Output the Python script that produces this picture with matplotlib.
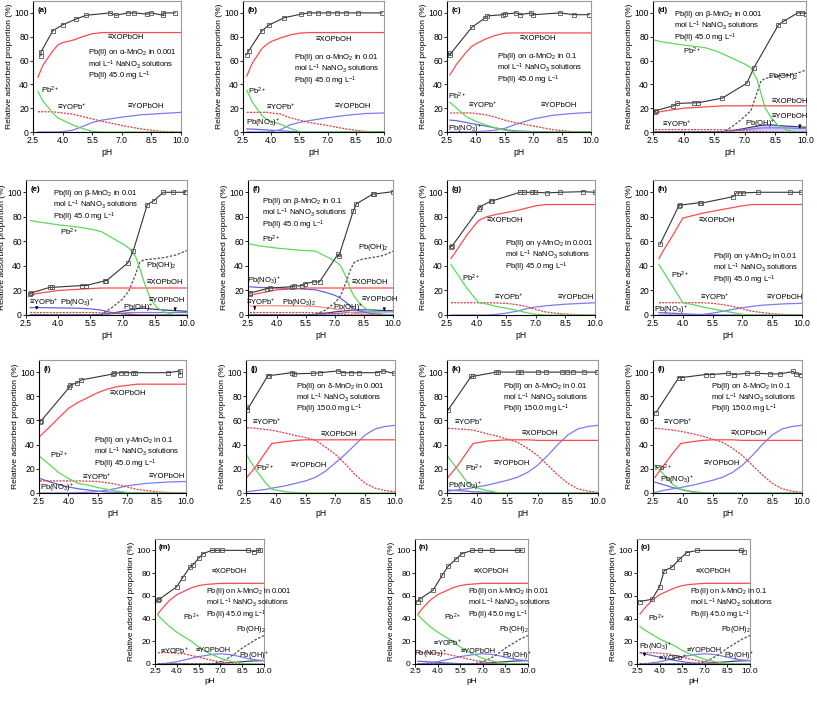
import matplotlib
matplotlib.use('Agg')
import matplotlib.pyplot as plt

plt.rcParams['font.family'] = ['Liberation Sans', 'DejaVu Sans']
plt.rcParams['mathtext.fontset'] = 'custom'
plt.rcParams['mathtext.rm'] = 'Liberation Sans'
plt.rcParams['mathtext.it'] = 'Liberation Sans:italic'
plt.rcParams['mathtext.bf'] = 'Liberation Sans:bold'

# ---- (a) alpha-MnO2, 0.001 M ----
a_ph_m = [2.9, 2.9, 3.5, 4.0, 4.7, 5.2, 6.4, 6.7, 7.3, 7.6, 8.3, 8.5, 9.1, 9.1, 9.7]
a_ads_m = [64, 67, 85, 90, 95, 98, 100, 98, 100, 100, 99, 100, 98, 100, 100]
a_ph = [2.75, 3.0, 3.5, 3.75, 4.0, 4.5, 5.0, 5.5, 6.0, 7.0, 8.0, 9.0, 10.0]
a_xopboh = [46, 56, 68, 73, 75, 77, 80, 82.5, 83.5, 83.5, 83.5, 83.5, 83.5]
a_pb2 = [34, 26, 16, 12, 10, 6, 3, 0.5, 0, 0, 0, 0, 0]
a_yopb = [17, 17, 17, 16.5, 16, 15, 13, 11, 9, 5.5, 2.5, 0.5, 0]
a_yopboh = [0, 0, 0, 0, 0.3, 1.5, 4.5, 8, 10, 12.5, 14.5, 15.5, 16.5]
a_pbno32 = [0, 0, 0, 0, 0, 0, 0, 0, 0, 0, 0, 0, 0]

# ---- (b) alpha-MnO2, 0.01 M ----
b_ph_m = [2.7, 2.8, 3.5, 3.9, 4.7, 5.6, 6.0, 6.5, 7.0, 7.5, 8.0, 8.6, 9.9]
b_ads_m = [65, 68, 85, 90, 96, 99, 100, 100, 100, 100, 100, 100, 100]
b_ph = [2.7, 3.0, 3.5, 3.8, 4.0, 4.5, 5.0, 5.5, 6.0, 7.0, 8.0, 9.0, 10.0]
b_xopboh = [47, 58, 70, 74, 76, 79, 81.5, 83, 83.5, 83.5, 83.5, 83.5, 83.5]
b_pb2 = [35, 25, 14, 10, 9, 6.5, 3, 0.5, 0, 0, 0, 0, 0]
b_yopb = [16.5, 16.5, 16.5, 16.5, 16, 15, 12, 10, 8, 5.5, 2.5, 0.5, 0]
b_yopboh = [0, 0, 0, 0, 0.3, 2, 6, 8, 9.5, 12, 14, 15.5, 16]
b_pbno3 = [2.5, 2.4, 2, 1.7, 1.5, 1, 0.5, 0.2, 0, 0, 0, 0, 0]
b_pbno32 = [0, 0, 0, 0, 0, 0, 0, 0, 0, 0, 0, 0, 0]

# ---- (c) alpha-MnO2, 0.1 M ----
c_ph_m = [2.65, 2.65, 3.8, 4.5, 4.6, 5.4, 5.5, 6.1, 6.3, 6.9, 7.0, 8.4, 9.1, 9.9]
c_ads_m = [66, 65, 88, 96, 97.5, 98.5, 99, 100, 98.5, 100, 98.5, 100, 98.5, 98.5]
c_ph = [2.65, 3.0, 3.5, 3.8, 4.0, 4.5, 5.0, 5.5, 6.0, 7.0, 8.0, 9.0, 10.0]
c_xopboh = [48, 57, 67, 72, 74, 78, 81, 83, 83.2, 83.2, 83.2, 83.2, 83.2]
c_pb2 = [25, 20, 13, 10.5, 9, 6, 3.5, 1.5, 0.3, 0, 0, 0, 0]
c_yopb = [16, 16, 16, 16, 15.5, 14.5, 12.5, 10, 8, 5, 2, 0.3, 0]
c_yopboh = [0, 0, 0, 0, 0.2, 0.8, 1.5, 3, 6, 11, 14, 15.5, 16.5]
c_pbno3 = [10, 9.5, 8, 7, 6.5, 5, 3.5, 2, 1, 0.3, 0, 0, 0]
c_pbno32 = [0, 0, 0, 0, 0, 0, 0, 0, 0, 0, 0, 0, 0]

# ---- (d) beta-MnO2, 0.001 M ----
d_ph_m = [2.6, 2.65, 3.5, 3.7, 4.5, 4.7, 5.9, 7.1, 7.45, 8.65, 8.9, 9.6, 9.8, 10.0]
d_ads_m = [17, 18, 22, 24, 24.5, 24.5, 28.5, 41, 54, 90, 93, 100, 100, 99.5]
d_ph = [2.6, 3.0, 4.0, 5.0, 5.5, 6.0, 6.5, 7.0, 7.3, 7.6, 7.8, 8.0, 8.3, 8.6, 9.0, 9.5, 10.0]
d_xopboh = [16, 17.5, 20, 21, 21.5, 22, 22, 22, 22, 22, 22, 22, 22, 22, 22, 22, 22]
d_pb2 = [77, 75.5, 73, 71, 68.5, 65, 61, 57, 54, 44, 32, 20, 12, 6, 2, 0, 0]
d_yopb = [2, 2, 2, 2, 2, 1.8, 1.5, 1, 0.7, 0.5, 0.3, 0.1, 0, 0, 0, 0, 0]
d_yopboh = [0, 0, 0, 0, 0, 0.3, 1, 2, 2.5, 3, 3.3, 3.5, 3.5, 3.5, 3.5, 3, 3]
d_pboh2 = [0, 0, 0, 0, 0, 0.5, 6, 13, 18, 33, 43, 45, 46, 47, 48, 49, 52]
d_pboh = [0, 0, 0, 0, 0, 0.3, 1.5, 3, 4, 5, 5.5, 5.8, 6, 5.5, 5, 4.5, 4]

# ---- (e) beta-MnO2, 0.01 M ----
e_ph_m = [2.7, 2.75, 3.6, 3.7, 5.1, 5.3, 6.2, 6.25, 7.25, 7.5, 8.15, 8.45, 8.9, 9.35, 9.9, 9.95]
e_ads_m = [17.5, 18, 22.5, 22.5, 24, 24, 28, 28, 42.5, 52.5, 90, 93, 100, 100, 100, 100.5]
e_ph = [2.7, 3.0, 4.0, 5.0, 5.5, 6.0, 6.5, 7.0, 7.3, 7.6, 7.8, 8.0, 8.3, 8.6, 9.0, 9.5, 10.0]
e_xopboh = [16, 17.5, 20, 21, 21.5, 22, 22, 22, 22, 22, 22, 22, 22, 22, 22, 22, 22]
e_pb2 = [77, 76, 73.5, 71.5, 70, 68, 63, 58, 54.5, 48, 38, 27, 13, 6, 2, 0, 0]
e_yopb = [2, 2, 2, 2, 2, 1.8, 1.5, 1, 0.7, 0.4, 0.2, 0.1, 0, 0, 0, 0, 0]
e_pbno3 = [6, 6, 5.8, 5.5, 5, 4, 2, 1, 0.5, 0.2, 0.1, 0, 0, 0, 0, 0, 0]
e_yopboh = [0, 0, 0, 0, 0, 0.3, 1, 1.5, 2, 2, 2, 2, 2, 2, 2, 2, 2]
e_pboh2 = [0, 0, 0, 0, 0, 0.5, 6, 13, 20, 33, 43, 45, 45.5, 46, 47, 49, 52.5]
e_pboh = [0, 0, 0, 0, 0, 0.5, 1.5, 3, 4, 5, 5.5, 5.5, 5, 4.5, 4, 3.5, 3]

# ---- (f) beta-MnO2, 0.1 M ----
f_ph_m = [2.6, 2.62, 3.5, 3.65, 4.75, 4.9, 5.3, 5.45, 5.9, 6.2, 7.15, 7.2, 7.95, 8.1, 8.95, 9.0, 10.0]
f_ads_m = [17.5, 18, 21.5, 22, 23, 23.5, 24, 25.5, 27, 27, 49.5, 48, 85, 90.5, 98.5, 98.5, 100.5]
f_ph = [2.6, 3.0, 4.0, 5.0, 5.5, 6.0, 6.5, 7.0, 7.3, 7.6, 7.8, 8.0, 8.3, 8.6, 9.0, 9.5, 10.0]
f_xopboh = [16, 17.5, 20.5, 21.5, 22, 22, 22, 22, 22, 22, 22, 22, 22, 22, 22, 22, 22]
f_pb2 = [58, 56.5, 54.5, 53, 52.5, 52, 48, 44, 40, 30, 21, 15, 9, 5, 2.5, 0.5, 0]
f_yopb = [2, 2, 2, 2, 2, 1.8, 1.5, 1, 0.7, 0.4, 0.2, 0.1, 0, 0, 0, 0, 0]
f_pbno3 = [23, 22.5, 22, 21.5, 21, 20.5, 18.5, 16, 13.5, 10, 7, 5, 3, 2, 1, 0.5, 0.3]
f_pbno32 = [7.5, 7.5, 7.5, 7.4, 7.3, 7, 6, 5, 4, 3, 2, 1.5, 1, 0.5, 0.2, 0, 0]
f_yopboh = [0, 0, 0, 0, 0, 0.2, 0.6, 1, 1.5, 2, 2, 2.2, 2.3, 2.5, 2.5, 2.5, 2.5]
f_pboh2 = [0, 0, 0, 0, 0, 0.5, 4, 10, 16, 28, 37, 43, 45, 46, 47, 48.5, 52]
f_pboh = [0, 0, 0, 0, 0, 0.5, 1.5, 2.5, 3, 3.5, 4, 4, 4.2, 4.2, 4, 3.7, 3.5]

# ---- (g) gamma-MnO2, 0.001 M ----
g_ph_m = [2.7, 2.75, 4.1, 4.15, 4.75, 4.8, 6.2, 6.4, 6.8, 6.95, 7.55, 8.25, 9.4, 10.0]
g_ads_m = [55.5, 56, 86, 88, 93, 93, 100, 100, 100, 100, 99.5, 100, 100.5, 100]
g_ph = [2.7, 3.0, 3.5, 4.1, 4.5, 5.0, 5.5, 6.0, 6.5, 7.0, 7.5, 8.0, 8.5, 9.0, 9.5, 10.0]
g_xopboh = [46, 53, 65, 77, 80, 82, 83.5, 85, 87, 89, 90, 90, 90, 90, 90, 90]
g_pb2 = [41, 34, 22, 10, 9, 7, 5.5, 4, 2, 0.5, 0, 0, 0, 0, 0, 0]
g_yopb = [10, 10, 10, 10, 10, 9.8, 9.5, 8.5, 7, 4.5, 2.5, 1.5, 0.8, 0.3, 0.1, 0]
g_yopboh = [0, 0, 0, 0, 0, 0.5, 1.5, 3, 5, 6.5, 7.5, 8.2, 8.8, 9.2, 9.6, 10]

# ---- (h) gamma-MnO2, 0.01 M ----
h_ph_m = [2.85, 3.8, 3.85, 4.85, 4.9, 6.55, 6.7, 6.9, 7.05, 7.8, 9.4, 9.95]
h_ads_m = [57.5, 89, 89.5, 91.5, 91, 96.5, 99.5, 99.5, 99.5, 100, 100, 100]
h_ph = [2.8, 3.0, 3.5, 4.0, 4.5, 5.0, 5.5, 6.0, 6.5, 7.0, 7.5, 8.0, 8.5, 9.0, 9.5, 10.0]
h_xopboh = [46, 52, 65, 79, 81, 83, 84.5, 86, 87.5, 89, 90, 90, 90, 90, 90, 90]
h_pb2 = [41, 36, 23, 10, 8.5, 6.5, 5, 3.5, 2, 0.5, 0, 0, 0, 0, 0, 0]
h_yopb = [10, 10, 10, 10, 10, 10, 9.5, 8.5, 7, 5, 3, 2, 1, 0.5, 0.2, 0]
h_yopboh = [0, 0, 0, 0, 0, 0.5, 1.5, 3, 4.5, 6, 7, 8, 8.5, 9, 9.3, 9.5]
h_pbno3 = [2, 1.8, 1.4, 1, 0.6, 0.3, 0.1, 0, 0, 0, 0, 0, 0, 0, 0, 0]

# ---- (i) gamma-MnO2, 0.1 M ----
i_ph_m = [2.55, 2.6, 4.05, 4.1, 4.45, 4.65, 6.3, 6.35, 6.7, 6.95, 7.3, 7.4, 9.1, 9.7, 9.7]
i_ads_m = [59, 59.5, 87.5, 89.5, 91, 93.5, 98.5, 99, 99.5, 99.5, 99.5, 99.5, 99.5, 101, 98]
i_ph = [2.55, 3.0, 3.5, 4.0, 4.5, 5.0, 5.5, 6.0, 6.5, 7.0, 7.5, 8.0, 8.5, 9.0, 9.5, 10.0]
i_xopboh = [47, 54, 62, 70, 75, 79, 83, 86, 88, 89, 90, 90, 90, 90, 90, 90]
i_pb2 = [30, 24, 17, 12, 8, 6.5, 4.5, 3, 1.5, 0.5, 0, 0, 0, 0, 0, 0]
i_yopb = [10, 10, 10, 10, 10, 9.8, 9.5, 8.5, 7, 5, 3, 2, 1, 0.5, 0.2, 0]
i_pbno3 = [12, 9.5, 7, 5, 3.5, 2.5, 1.5, 0.8, 0.4, 0.2, 0, 0, 0, 0, 0, 0]
i_yopboh = [0, 0, 0, 0, 0.2, 0.6, 1.2, 2.5, 4, 6, 7, 8, 8.5, 9, 9.3, 9.5]

# ---- (j) delta-MnO2, 0.001 M ----
j_ph_m = [2.55, 2.57, 3.6, 3.65, 4.8, 4.9, 5.85, 6.25, 7.15, 7.4, 7.8, 8.2, 9.1, 9.4, 9.95]
j_ads_m = [71, 69, 97, 97, 99.5, 98.5, 99, 99.5, 101, 99.5, 99.5, 99.5, 99.5, 101, 99]
j_ph = [2.55, 3.0, 3.5, 3.8, 4.5, 5.0, 5.5, 6.0, 6.5, 7.0, 7.5, 8.0, 8.5, 9.0, 9.5, 10.0]
j_xopboh = [13, 22, 34, 41, 42.5, 43.5, 44, 44, 44, 44, 44, 44, 44, 44, 44, 44]
j_pb2 = [31, 19, 8, 3, 1, 0.3, 0, 0, 0, 0, 0, 0, 0, 0, 0, 0]
j_yopb = [54, 53.5, 52.5, 52, 49.5, 47.5, 46, 43.5, 38, 32, 24, 15, 8, 4, 2, 1]
j_yopboh = [1, 2, 3, 4, 6, 8, 10, 13, 18, 25, 32, 40, 48, 53, 55, 56]

# ---- (k) delta-MnO2, 0.01 M ----
k_ph_m = [2.55, 3.7, 3.8, 4.95, 5.05, 6.05, 6.2, 7.0, 7.4, 8.2, 8.45, 8.75, 9.3, 9.95]
k_ads_m = [68.5, 96.5, 96.5, 100, 100, 100, 100, 100, 100, 100, 100, 100, 100, 100]
k_ph = [2.55, 3.0, 3.5, 3.8, 4.5, 5.0, 5.5, 6.0, 6.5, 7.0, 7.5, 8.0, 8.5, 9.0, 9.5, 10.0]
k_xopboh = [13, 22, 34, 41, 43, 43.5, 44, 44, 44, 43.5, 43.5, 43.5, 43.5, 43.5, 43.5, 43.5]
k_pb2 = [30, 20, 9, 5, 2, 0.5, 0, 0, 0, 0, 0, 0, 0, 0, 0, 0]
k_yopb = [53.5, 53, 52.5, 52, 49, 47, 44.5, 42, 37, 31, 23, 15, 8, 3.5, 1.5, 0.5]
k_yopboh = [1.5, 2.5, 3.5, 4.5, 6.5, 8.5, 10.5, 13, 17, 23, 31, 40, 48, 53, 55, 56]
k_pbno3 = [2.5, 2, 1.5, 1, 0.5, 0.2, 0, 0, 0, 0, 0, 0, 0, 0, 0, 0]

# ---- (l) delta-MnO2, 0.1 M ----
l_ph_m = [2.65, 3.8, 3.95, 5.15, 5.45, 6.3, 6.6, 7.25, 7.75, 8.4, 8.9, 9.55, 9.7, 9.95]
l_ads_m = [66.5, 95.5, 95.5, 98, 98, 99, 98, 99, 99, 98.5, 98.5, 100.5, 98.5, 98]
l_ph = [2.6, 3.0, 3.5, 3.9, 4.5, 5.0, 5.5, 6.0, 6.5, 7.0, 7.5, 8.0, 8.5, 9.0, 9.5, 10.0]
l_xopboh = [13, 22, 33, 41, 42.5, 43.5, 44, 44, 44, 43.5, 43.5, 43.5, 43.5, 43.5, 43.5, 43.5]
l_pb2 = [23, 16, 7, 3, 0.5, 0, 0, 0, 0, 0, 0, 0, 0, 0, 0, 0]
l_yopb = [53.5, 53, 52, 51, 49, 47, 44.5, 42, 37, 31, 23, 15, 8, 3.5, 1.5, 0.5]
l_pbno3 = [9, 7, 4.5, 3, 1, 0.3, 0, 0, 0, 0, 0, 0, 0, 0, 0, 0]
l_yopboh = [0.5, 2, 3.5, 4.5, 6.5, 8.5, 10.5, 13, 17, 23, 31, 40, 48, 53, 55, 56]

# ---- (m) lambda-MnO2, 0.001 M ----
m_ph_m = [2.7, 2.8, 4.0, 4.4, 4.9, 5.1, 5.5, 5.8, 6.4, 6.8, 7.1, 8.9, 9.3, 9.6, 9.7]
m_ads_m = [56, 57, 68, 76, 85, 87, 93, 97, 100, 100, 100, 100, 99, 100, 100]
m_ph = [2.7, 3.0, 3.5, 4.0, 4.5, 5.0, 5.5, 6.0, 6.5, 7.0, 7.5, 8.0, 8.5, 9.0, 9.5, 10.0]
m_xopboh = [44, 49, 56, 61, 64, 67, 69, 70, 70.5, 71, 71, 71, 71, 71, 71, 71]
m_pb2 = [43, 39, 33, 28, 24, 20, 15, 11, 8, 5, 3, 1.5, 0.5, 0.2, 0, 0]
m_yopb = [10, 10, 10, 9.5, 9, 7.5, 6, 4.5, 3, 2, 1, 0.5, 0.2, 0, 0, 0]
m_yopboh = [0, 0.3, 1, 2, 3.5, 5, 6.5, 7.5, 8.5, 9, 8.5, 7.5, 6, 4.5, 3.5, 3]
m_pboh2 = [0, 0, 0, 0, 0, 0, 0, 0, 0.5, 2, 5, 9, 14, 18, 22, 25]
m_pboh = [0, 0, 0, 0, 0, 0, 0, 0, 0.2, 0.5, 1, 1.5, 2, 2.5, 2.8, 3]

# ---- (n) lambda-MnO2, 0.01 M ----
n_ph_m = [2.7, 2.8, 3.7, 4.3, 4.7, 5.2, 5.6, 6.3, 6.8, 7.6, 9.3, 9.6]
n_ads_m = [55, 57, 65, 78, 86, 92, 97, 100, 100, 100, 100, 100]
n_ph = [2.7, 3.0, 3.5, 4.0, 4.5, 5.0, 5.5, 6.0, 6.5, 7.0, 7.5, 8.0, 8.5, 9.0, 9.5, 10.0]
n_xopboh = [44, 49, 56, 61, 64, 67, 69, 70, 70.5, 71, 71, 71, 71, 71, 71, 71]
n_pb2 = [43, 39, 33, 28, 24, 20, 15, 11, 8, 5, 3, 1.5, 0.5, 0.2, 0, 0]
n_yopb = [10, 10, 10, 9.5, 9, 7.5, 6, 4.5, 3, 2, 1, 0.5, 0.2, 0, 0, 0]
n_yopboh = [0, 0.3, 1, 2, 3.5, 5, 6.5, 7.5, 8.5, 9, 8.5, 7.5, 6, 4.5, 3.5, 3]
n_pbno3 = [2.5, 2.2, 1.8, 1.4, 1, 0.6, 0.3, 0.1, 0, 0, 0, 0, 0, 0, 0, 0]
n_pboh2 = [0, 0, 0, 0, 0, 0, 0, 0, 0.5, 2, 5, 9, 14, 18, 22, 25]
n_pboh = [0, 0, 0, 0, 0, 0, 0, 0, 0.2, 0.5, 1, 1.5, 2, 2.5, 2.8, 3]

# ---- (o) lambda-MnO2, 0.1 M ----
o_ph_m = [2.7, 3.5, 4.0, 4.3, 4.8, 5.3, 5.8, 6.5, 9.4, 9.6]
o_ads_m = [55, 57, 68, 82, 85, 92, 98, 100, 100, 99]
o_ph = [2.7, 3.0, 3.5, 4.0, 4.5, 5.0, 5.5, 6.0, 6.5, 7.0, 7.5, 8.0, 8.5, 9.0, 9.5, 10.0]
o_xopboh = [44, 49, 56, 61, 64, 67, 69, 70, 70.5, 71, 71, 71, 71, 71, 71, 71]
o_pb2 = [33, 30, 26, 22, 19, 16, 12, 9, 6.5, 4, 2.5, 1.2, 0.5, 0.2, 0, 0]
o_yopb = [10, 10, 10, 9.5, 9, 7.5, 6, 4.5, 3, 2, 1, 0.5, 0.2, 0, 0, 0]
o_yopboh = [0, 0.3, 1, 2, 3.5, 5, 6.5, 7.5, 8.5, 9, 8.5, 7.5, 6, 4.5, 3.5, 3]
o_pbno3 = [10, 9, 7.5, 6, 4.5, 3.2, 2, 1.2, 0.6, 0.3, 0.1, 0, 0, 0, 0, 0]
o_pboh2 = [0, 0, 0, 0, 0, 0, 0, 0, 0.5, 2, 5, 9, 14, 18, 22, 25]
o_pboh = [0, 0, 0, 0, 0, 0, 0, 0, 0.2, 0.5, 1, 1.5, 2, 2.5, 2.8, 3]

x_ticks = [2.5, 4.0, 5.5, 7.0, 8.5, 10.0]
y_ticks = [0, 20, 40, 60, 80, 100]

XOP = '≡XOPbOH'
PB2 = 'Pb$^{2+}$'
YOPB = '≡YOPb$^{+}$'
YOPBOH = '≡YOPbOH'
PBNO3 = 'Pb(NO$_3$)$^{+}$'
PBNO32 = 'Pb(NO$_3$)$_2$'
PBOH2 = 'Pb(OH)$_2$'
PBOH = 'Pb(OH)$^{+}$'

STY = {
    'xop': dict(color='#ff4a4a', lw=0.9),
    'pb2': dict(color='#5cd85c', lw=0.9),
    'yopb': dict(color='#e03a3a', lw=0.9, ls=(0, (1.6, 1.0))),
    'yopboh': dict(color='#7b7bf2', lw=0.9),
    'pbno3': dict(color='#6666dd', lw=0.9),
    'pbno32': dict(color='#ff8a8a', lw=0.9),
    'zero': dict(color='#202090', lw=0.9, ls=(0, (3, 2))),
    'pboh2': dict(color='#505050', lw=0.9, ls=(0, (2, 1.3))),
    'pboh': dict(color='#404070', lw=0.9),
}


def cond(phase, conc, mg):
    return ('Pb(II) on %s-MnO$_2$ in %s\nmol L$^{-1}$ NaNO$_3$ solutions\n'
            'Pb(II) %s mg L$^{-1}$' % (phase, conc, mg))


# rect = (left px, right px, top px, bottom px) of the plot area
PANELS = [
    dict(tag='(a)', rect=(33, 181, 1, 132), meas=(a_ph_m, a_ads_m), ph=a_ph,
         curves=[(a_pbno32, 'zero'), (a_yopboh, 'yopboh'), (a_yopb, 'yopb'), (a_pb2, 'pb2'), (a_xopboh, 'xop')],
         cond=(5.3, 71, cond('α', '0.001', '45.0')),
         labels=[(6.3, 79, XOP), (2.9, 35, PB2), (3.7, 21, YOPB), (7.3, 21, YOPBOH)], arrows=[]),
    dict(tag='(b)', rect=(243, 384, 1, 132), meas=(b_ph_m, b_ads_m), ph=b_ph,
         curves=[(b_pbno32, 'zero'), (b_pbno3, 'pbno3'), (b_yopboh, 'yopboh'), (b_yopb, 'yopb'), (b_pb2, 'pb2'), (b_xopboh, 'xop')],
         cond=(5.2, 67, cond('α', '0.01', '45.0')),
         labels=[(6.35, 78, XOP), (2.75, 34, PB2), (3.7, 21, YOPB), (7.35, 21, YOPBOH), (2.65, 7.5, PBNO3)], arrows=[]),
    dict(tag='(c)', rect=(447, 591, 1, 132), meas=(c_ph_m, c_ads_m), ph=c_ph,
         curves=[(c_pbno32, 'zero'), (c_pbno3, 'pbno3'), (c_yopboh, 'yopboh'), (c_yopb, 'yopb'), (c_pb2, 'pb2'), (c_xopboh, 'xop')],
         cond=(5.1, 68, cond('α', '0.1', '45.0')),
         labels=[(6.3, 78.5, XOP), (2.55, 30, PB2), (3.6, 23, YOPB), (7.4, 22.5, YOPBOH), (2.55, 2.5, PBNO3)], arrows=[]),
    dict(tag='(d)', rect=(653, 806, 1, 132), meas=(d_ph_m, d_ads_m), ph=d_ph,
         curves=[(d_pboh, 'pboh'), (d_yopboh, 'yopboh'), (d_yopb, 'yopb'), (d_pboh2, 'pboh2'), (d_xopboh, 'xop'), (d_pb2, 'pb2')],
         cond=(3.55, 103.5, cond('β', '0.001', '45.0')),
         labels=[(3.95, 68, PB2), (8.15, 47, PBOH2), (8.3, 26, XOP), (8.3, 13, YOPBOH), (7.0, 6.5, PBOH), (2.95, 6.5, YOPB)],
         arrows=[(9.7, 6, 1)], fill=d_pboh),
    dict(tag='(e)', rect=(26, 187, 180, 315), meas=(e_ph_m, e_ads_m), ph=e_ph,
         curves=[(e_pboh, 'pboh'), (e_yopboh, 'yopboh'), (e_pbno3, 'pbno3'), (e_yopb, 'yopb'), (e_pboh2, 'pboh2'), (e_xopboh, 'xop'), (e_pb2, 'pb2')],
         cond=(3.75, 103.5, cond('β', '0.01', '45.0')),
         labels=[(4.1, 67, PB2), (8.1, 40.5, PBOH2), (8.1, 26.5, XOP), (8.2, 12, YOPBOH), (7.0, 6, PBOH), (4.1, 9.5, PBNO3), (2.65, 10.5, YOPB)],
         arrows=[(3.0, 8, 2), (9.45, 6, 1)]),
    dict(tag='(f)', rect=(248, 393, 180, 315), meas=(f_ph_m, f_ads_m), ph=f_ph,
         curves=[(f_pboh, 'pboh'), (f_yopboh, 'yopboh'), (f_pbno32, 'pbno32'), (f_pbno3, 'pbno3'), (f_yopb, 'yopb'), (f_pboh2, 'pboh2'), (f_xopboh, 'xop'), (f_pb2, 'pb2')],
         cond=(3.2, 97, cond('β', '0.1', '45.0')),
         labels=[(3.2, 61.5, PB2), (8.2, 55, PBOH2), (7.85, 26.5, XOP), (8.4, 13, YOPBOH), (6.9, 6, PBOH), (2.45, 28, PBNO3), (4.25, 10.5, PBNO32), (2.4, 11, YOPB)],
         arrows=[(2.85, 7, 2), (9.55, 6, 1)]),
    dict(tag='(g)', rect=(447, 595, 180, 315), meas=(g_ph_m, g_ads_m), ph=g_ph,
         curves=[(g_yopboh, 'yopboh'), (g_yopb, 'yopb'), (g_pb2, 'pb2'), (g_xopboh, 'xop')],
         cond=(5.45, 63, cond('γ', '0.001', '45.0')),
         labels=[(4.5, 77, XOP), (3.25, 30, PB2), (4.9, 14.5, YOPB), (8.1, 14, YOPBOH)], arrows=[]),
    dict(tag='(h)', rect=(653, 802, 180, 315), meas=(h_ph_m, h_ads_m), ph=h_ph,
         curves=[(h_pbno3, 'pbno3'), (h_yopboh, 'yopboh'), (h_yopb, 'yopb'), (h_pb2, 'pb2'), (h_xopboh, 'xop')],
         cond=(5.5, 52, cond('γ', '0.01', '45.0')),
         labels=[(4.8, 77, XOP), (3.4, 32, PB2), (4.85, 15, YOPB), (8.2, 14.5, YOPBOH), (2.55, 4.5, PBNO3)], arrows=[]),
    dict(tag='(i)', rect=(39, 186, 360, 493), meas=(i_ph_m, i_ads_m), ph=i_ph,
         curves=[(i_pbno3, 'pbno3'), (i_yopboh, 'yopboh'), (i_yopb, 'yopb'), (i_pb2, 'pb2'), (i_xopboh, 'xop')],
         cond=(5.3, 48, cond('γ', '0.1', '45.0')),
         labels=[(6.1, 82.5, XOP), (3.05, 31.5, PB2), (4.7, 13, YOPB), (8.1, 13.5, YOPBOH), (2.55, 4, PBNO3)], arrows=[]),
    dict(tag='(j)', rect=(246, 395, 360, 493), meas=(j_ph_m, j_ads_m), ph=j_ph,
         curves=[(j_yopboh, 'yopboh'), (j_yopb, 'yopb'), (j_pb2, 'pb2'), (j_xopboh, 'xop')],
         cond=(5.0, 93, cond('δ', '0.001', '150.0')),
         labels=[(2.8, 59, YOPB), (6.25, 48.5, XOP), (4.75, 23, YOPBOH), (3.0, 20, PB2)], arrows=[]),
    dict(tag='(k)', rect=(447, 598, 360, 493), meas=(k_ph_m, k_ads_m), ph=k_ph,
         curves=[(k_pbno3, 'pbno3'), (k_yopboh, 'yopboh'), (k_yopb, 'yopb'), (k_pb2, 'pb2'), (k_xopboh, 'xop')],
         cond=(5.3, 93, cond('δ', '0.01', '150.0')),
         labels=[(2.85, 59, YOPB), (6.2, 49, XOP), (4.8, 24, YOPBOH), (3.4, 20, PB2), (2.55, 5.5, PBNO3)], arrows=[]),
    dict(tag='(l)', rect=(653, 802, 360, 493), meas=(l_ph_m, l_ads_m), ph=l_ph,
         curves=[(l_pbno3, 'pbno3'), (l_yopboh, 'yopboh'), (l_yopb, 'yopb'), (l_pb2, 'pb2'), (l_xopboh, 'xop')],
         cond=(5.4, 93, cond('δ', '0.1', '150.0')),
         labels=[(3.0, 59, YOPB), (6.4, 49, XOP), (5.05, 24, YOPBOH), (2.55, 20.5, PB2), (2.85, 10.5, PBNO3)], arrows=[]),
    dict(tag='(m)', rect=(155, 264, 539, 664), meas=(m_ph_m, m_ads_m), ph=m_ph,
         curves=[(m_pboh, 'pboh'), (m_yopboh, 'yopboh'), (m_yopb, 'yopb'), (m_pboh2, 'pboh2'), (m_pb2, 'pb2'), (m_xopboh, 'xop')],
         cond=(6.0, 69, cond('λ', '0.001', '45.0')),
         labels=[(6.4, 81, XOP), (4.4, 41, PB2), (2.85, 12, YOPB), (5.3, 11.5, YOPBOH), (8.1, 30, PBOH2), (8.3, 7.5, PBOH)], arrows=[]),
    dict(tag='(n)', rect=(415, 528, 539, 664), meas=(n_ph_m, n_ads_m), ph=n_ph,
         curves=[(n_pboh, 'pboh'), (n_pbno3, 'pbno3'), (n_yopboh, 'yopboh'), (n_yopb, 'yopb'), (n_pboh2, 'pboh2'), (n_pb2, 'pb2'), (n_xopboh, 'xop')],
         cond=(6.0, 69, cond('λ', '0.01', '45.0')),
         labels=[(6.4, 81, XOP), (4.4, 41, PB2), (3.7, 18.5, YOPB), (5.5, 11, YOPBOH), (2.45, 9, PBNO3), (8.1, 30, PBOH2), (8.3, 7.5, PBOH)], arrows=[]),
    dict(tag='(o)', rect=(637, 750, 539, 664), meas=(o_ph_m, o_ads_m), ph=o_ph,
         curves=[(o_pboh, 'pboh'), (o_pbno3, 'pbno3'), (o_yopboh, 'yopboh'), (o_yopb, 'yopb'), (o_pboh2, 'pboh2'), (o_pb2, 'pb2'), (o_xopboh, 'xop')],
         cond=(6.0, 69, cond('λ', '0.1', '45.0')),
         labels=[(6.4, 81, XOP), (3.2, 40, PB2), (3.9, 5.5, YOPB), (5.8, 12, YOPBOH), (2.6, 15.5, PBNO3), (8.1, 30, PBOH2), (8.3, 7.5, PBOH)],
         arrows=[(3.0, 12.5, 4)]),
]

W, H = 817, 703
fig = plt.figure(figsize=(W / 100, H / 100), dpi=100)

NARROW = ['Liberation Sans Narrow', 'Liberation Sans', 'DejaVu Sans']

for p in PANELS:
    l, r, t, b = p['rect']
    small = p['tag'] in ('(m)', '(n)', '(o)')
    fam = NARROW if small else None
    fs = 5.3 if small else 5.5
    ax = fig.add_axes([l / W, 1 - b / H, (r - l) / W, (b - t) / H])
    ph = p['ph']
    if 'fill' in p:
        ax.fill_between(ph, p['fill'], color='#9090ff', alpha=0.45, lw=0)
    for vals, key in p['curves']:
        ax.plot(ph, vals, **STY[key])
    xm, ym = p['meas']
    ax.plot(xm, ym, color='#333333', lw=0.8, marker='s', ms=3.4, mfc='none',
            mec='#555555', mew=0.6)
    ax.set_xlim(2.5, 10.0)
    ax.set_ylim(0, 110)
    ax.set_xticks(x_ticks)
    ax.set_xticklabels(['%.1f' % v for v in x_ticks])
    ax.set_yticks(y_ticks)
    ax.tick_params(labelsize=fs + 0.7, length=2, width=0.6, pad=1, direction='out')
    if fam:
        for t_ in ax.get_xticklabels() + ax.get_yticklabels():
            t_.set_family(fam)
    for s in ('left', 'bottom'):
        ax.spines[s].set_color('black')
        ax.spines[s].set_linewidth(0.8)
    for s in ('top', 'right'):
        ax.spines[s].set_color('#9a9a9a')
        ax.spines[s].set_linewidth(0.8)
    kw = dict(family=fam) if fam else {}
    ax.set_xlabel('pH', fontsize=fs + 0.7, labelpad=2, **kw)
    ax.set_ylabel('Relative adsorbed proportion (%)', fontsize=fs + 0.6, labelpad=1, **kw)
    ax.text(0.03, 0.93, p['tag'], transform=ax.transAxes, fontsize=fs + 0.2,
            fontweight='bold', va='center', **kw)
    cx, cy, ctext = p['cond']
    ax.text(cx, cy, ctext, fontsize=fs, va='top', ha='left', linespacing=0.95, **kw)
    for x, y, s in p['labels']:
        ax.text(x, y, s, fontsize=fs, va='center', ha='left', **kw)
    for x, y1, y2 in p['arrows']:
        ax.annotate('', xy=(x, y2), xytext=(x, y1),
                    arrowprops=dict(arrowstyle='-|>', color='black', lw=0.6,
                                    mutation_scale=4))

fig.savefig('out.png', dpi=100)
